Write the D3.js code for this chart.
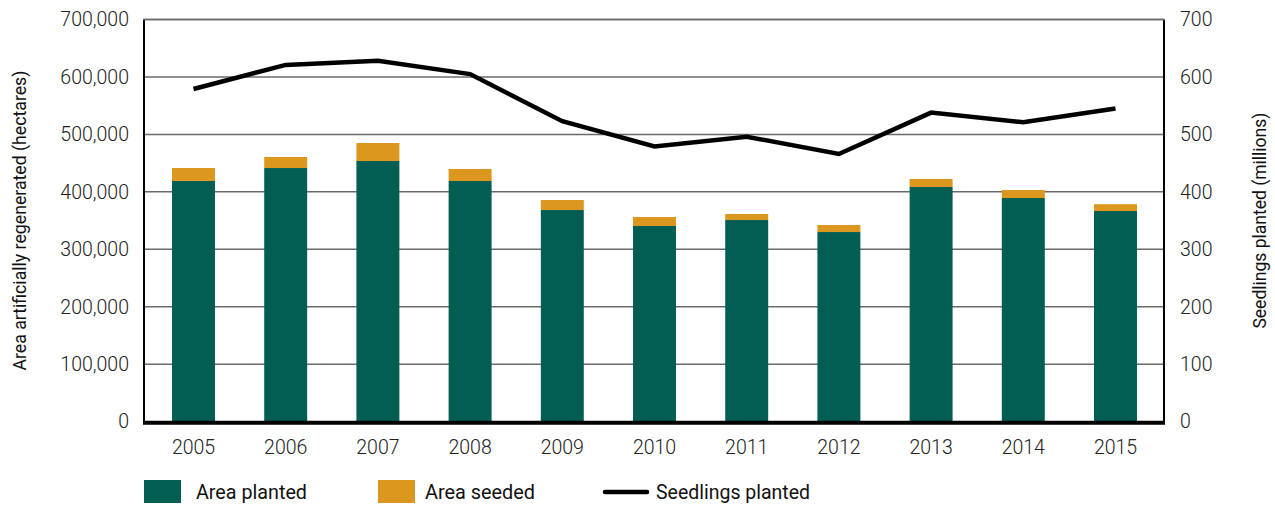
<!DOCTYPE html>
<html><head><meta charset="utf-8">
<script src="https://cdn.jsdelivr.net/npm/d3@7"></script>
<style>
body{margin:0;background:#fff;}
svg{display:block;}
.tick text{font-family:Roboto,"Liberation Sans",sans-serif;font-weight:300;fill:#222;}
.cond{font-family:Roboto,"Liberation Sans",sans-serif;}
</style>
</head><body>
<svg id="c" width="1275" height="505"></svg>
<script>
const years = ["2005","2006","2007","2008","2009","2010","2011","2012","2013","2014","2015"];
const areaPlanted = [419000,441500,453700,418900,368400,340600,351000,330100,408500,389300,366700];
const areaSeeded  = [22500,19200,31300,20900,17400,15600,10500,12200,13900,13900,11800];
const seedlings   = [579,621,628,605,523,479,496,466,538,521,545];
const leftTicks  = [0,100000,200000,300000,400000,500000,600000,700000];
const rightTicks = [0,100,200,300,400,500,600,700];

const svg = d3.select("#c");
const L = 144, R = 1164, T = 19.5, B = 421.7;

const x = d3.scaleBand().domain(years).range([147.4, 1161.6]).paddingInner(0.534).paddingOuter(0.267);
const yL = d3.scaleLinear().domain([0,700000]).range([B,T]);
const yR = d3.scaleLinear().domain([0,700]).range([B,T]);

// gridlines
svg.append("g").selectAll("line").data(leftTicks.filter(d=>d>0)).join("line")
  .attr("x1",L).attr("x2",R).attr("y1",d=>yL(d)).attr("y2",d=>yL(d))
  .attr("stroke","#6a6a6a").attr("stroke-width",1.5);

// bars
const g = svg.append("g");
g.selectAll("rect.p").data(years).join("rect").attr("class","p")
  .attr("x",d=>x(d)).attr("width",x.bandwidth())
  .attr("y",(d,i)=>yL(areaPlanted[i])).attr("height",(d,i)=>yL(0)-yL(areaPlanted[i]))
  .attr("fill","#025e52");
g.selectAll("rect.s").data(years).join("rect").attr("class","s")
  .attr("x",d=>x(d)).attr("width",x.bandwidth())
  .attr("y",(d,i)=>yL(areaPlanted[i]+areaSeeded[i])).attr("height",(d,i)=>yL(areaPlanted[i])-yL(areaPlanted[i]+areaSeeded[i]))
  .attr("fill","#dc971e");

// line
const line = d3.line().x((d,i)=>x(years[i])+x.bandwidth()/2).y(d=>yR(d));
svg.append("path").datum(seedlings).attr("d",line)
  .attr("fill","none").attr("stroke","#000").attr("stroke-width",4.5).attr("stroke-linejoin","miter");

// axes
const fmt = d3.format(",");
const ax = svg.append("g").attr("transform",`translate(${L},0)`)
  .call(d3.axisLeft(yL).tickValues(leftTicks).tickFormat(fmt).tickSize(0).tickPadding(15));
ax.select(".domain").remove();
ax.selectAll("text").attr("font-size",19.5);
const axr = svg.append("g").attr("transform",`translate(${R},0)`)
  .call(d3.axisRight(yR).tickValues(rightTicks).tickSize(0).tickPadding(16));
axr.select(".domain").remove();
axr.selectAll("text").attr("font-size",19.5);
const axb = svg.append("g").attr("transform",`translate(0,${B})`)
  .call(d3.axisBottom(x).tickSize(0).tickPadding(18));
axb.select(".domain").remove();
axb.selectAll("text").attr("font-size",19.5);

svg.append("line").attr("x1",L).attr("x2",L).attr("y1",T-0.5).attr("y2",B).attr("stroke","#000").attr("stroke-width",2);
svg.append("line").attr("x1",R).attr("x2",R).attr("y1",T-0.5).attr("y2",B).attr("stroke","#000").attr("stroke-width",2);
svg.append("line").attr("x1",L-1).attr("x2",R+1).attr("y1",T).attr("y2",T).attr("stroke","#6a6a6a").attr("stroke-width",1.5);
svg.append("line").attr("x1",L-1).attr("x2",R+1).attr("y1",B+1).attr("y2",B+1).attr("stroke","#000").attr("stroke-width",4);

// axis titles
svg.append("text").attr("class","cond").attr("transform",`translate(26,${(T+B)/2}) rotate(-90)`)
  .attr("text-anchor","middle").attr("font-size",18.5).attr("fill","#111")
  .attr("textLength",300).attr("lengthAdjust","spacingAndGlyphs")
  .text("Area artificially regenerated (hectares)");
svg.append("text").attr("class","cond").attr("transform",`translate(1266,${(T+B)/2}) rotate(-90)`)
  .attr("text-anchor","middle").attr("font-size",18.5).attr("fill","#111")
  .attr("textLength",216).attr("lengthAdjust","spacingAndGlyphs")
  .text("Seedlings planted (millions)");

// legend
const lg = svg.append("g");
lg.append("rect").attr("x",144).attr("y",480).attr("width",37).attr("height",23).attr("fill","#025e52");
lg.append("text").attr("class","cond").attr("x",196).attr("y",499).attr("font-size",20).attr("fill","#111")
  .attr("textLength",111).attr("lengthAdjust","spacingAndGlyphs").text("Area planted");
lg.append("rect").attr("x",378).attr("y",480).attr("width",37).attr("height",23).attr("fill","#dc971e");
lg.append("text").attr("class","cond").attr("x",425).attr("y",499).attr("font-size",20).attr("fill","#111")
  .attr("textLength",110).attr("lengthAdjust","spacingAndGlyphs").text("Area seeded");
lg.append("line").attr("x1",605).attr("x2",647).attr("y1",492).attr("y2",492).attr("stroke","#000").attr("stroke-width",4.5).attr("stroke-linecap","round");
lg.append("text").attr("class","cond").attr("x",656).attr("y",499).attr("font-size",20).attr("fill","#111")
  .attr("textLength",154).attr("lengthAdjust","spacingAndGlyphs").text("Seedlings planted");
</script>
</body></html>
